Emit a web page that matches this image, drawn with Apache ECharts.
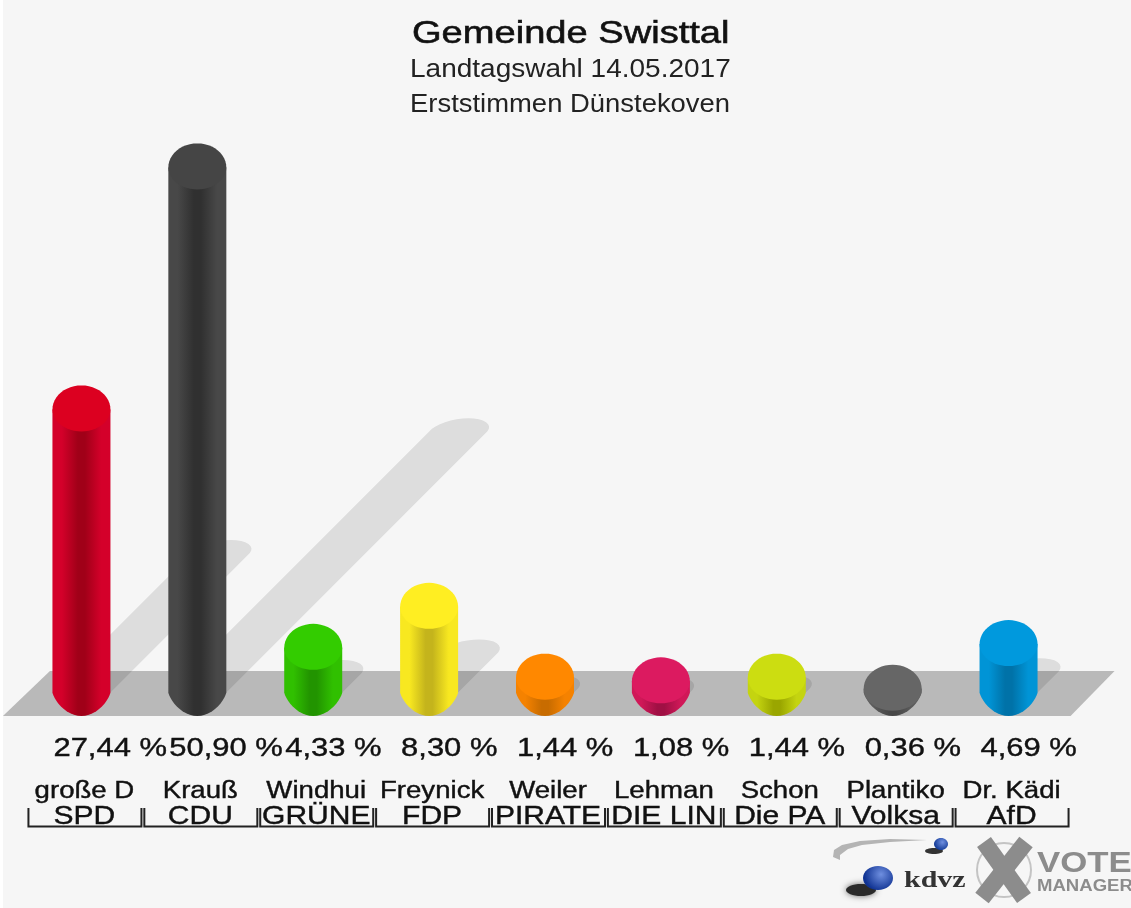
<!DOCTYPE html>
<html>
<head>
<meta charset="utf-8">
<title>Gemeinde Swisttal</title>
<script src="https://cdn.jsdelivr.net/npm/echarts@6/dist/echarts.min.js"></script>
<style>
  html, body { margin: 0; padding: 0; background: #fff; }
  #chart { width: 1131px; height: 908px; filter: blur(0.7px); }
</style>
</head>
<body>
<div id="chart"></div>
<script>
var parties = ['SPD', 'CDU', 'GRÜNE', 'FDP', 'PIRATE', 'DIE LIN', 'Die PA', 'Volksa', 'AfD']
var candidates = ['große D', 'Krauß', 'Windhui', 'Freynick', 'Weiler', 'Lehman', 'Schon', 'Plantiko', 'Dr. Kädi']
var shares = [27.44, 50.90, 4.33, 8.30, 1.44, 1.08, 1.44, 0.36, 4.69]
var topColors = ['#dc0020', '#454545', '#33cc00', '#ffee22', '#ff8800', '#dc1a60', '#ccdd11', '#666666', '#0099dd']
var edgeColors = ['#d4002a', '#484848', '#30c000', '#f8e820', '#f58200', '#d01858', '#c4d410', '#5c5c5c', '#0094d6']
var midColors = ['#a00018', '#303030', '#229400', '#c4b41c', '#c86c00', '#a01044', '#9aa600', '#484848', '#0072a8']

var FONT = '"Liberation Sans", Arial, sans-serif'
var RX = 29
var RY = 23.5

function topEllipse(cx, cy) {
  var pts = []
  for (var i = 0; i < 48; i++) {
    var t = i / 48 * Math.PI * 2
    var s = Math.sin(t)
    pts.push([cx + RX * Math.cos(t), cy + s * (s > 0 ? 22 : 24)])
  }
  return pts
}

function cylinderBody(cx, ty, by) {
  var pts = [[cx - RX, ty], [cx + RX, ty]]
  for (var i = 0; i <= 24; i++) {
    var t = i / 24 * Math.PI
    pts.push([cx + RX * Math.cos(t), by + RY * Math.pow(Math.sin(t), 1.5)])
  }
  return pts
}

function shadowStrip(cx, by, len) {
  // strip at 45 degrees from the base, with a sheared cap at its end
  var ex = cx + len
  var ey = by - len
  var pts = [[cx - RX, by], [cx + RX, by]]
  for (var i = 0; i <= 16; i++) {
    var t = i / 16 * Math.PI
    pts.push([ex + RX * Math.cos(t) + 10 * Math.sin(t), ey - 13 * Math.sin(t)])
  }
  return pts
}

function renderFloor(params, api) {
  var first = api.coord([0, 0])
  var last = api.coord([parties.length - 1, 0])
  return {
    type: 'polygon',
    shape: { points: [
      [first[0] - 78.5, first[1] + RY],
      [first[0] - 31.5, first[1] - 21.5],
      [last[0] + 106, first[1] - 21.5],
      [last[0] + 62, first[1] + RY]
    ] },
    style: { fill: '#b9b9b9' }
  }
}

function renderShadow(params, api) {
  var base = api.coord([api.value(0), 0])
  var head = api.coord([api.value(0), api.value(1)])
  return {
    type: 'polygon',
    shape: { points: shadowStrip(base[0], base[1], (base[1] - head[1]) * 0.503 - 3) },
    style: { fill: 'rgba(0,0,0,0.1)' }
  }
}

function renderCylinder(params, api) {
  var i = api.value(0)
  var base = api.coord([i, 0])
  var head = api.coord([i, api.value(1)])
  return {
    type: 'group',
    children: [{
      type: 'polygon',
      shape: { points: cylinderBody(base[0], head[1], base[1]) },
      style: {
        fill: new echarts.graphic.LinearGradient(0, 0, 1, 0, [
          { offset: 0, color: edgeColors[i] },
          { offset: 0.16, color: edgeColors[i] },
          { offset: 0.44, color: midColors[i] },
          { offset: 0.56, color: midColors[i] },
          { offset: 0.84, color: edgeColors[i] },
          { offset: 1, color: edgeColors[i] }
        ])
      }
    }, {
      type: 'polygon',
      shape: { points: topEllipse(base[0], head[1]) },
      style: { fill: topColors[i] }
    }]
  }
}

function label(text, x, y, size, sx, align) {
  return {
    type: 'text',
    x: x,
    y: y,
    scaleX: sx,
    style: {
      text: text,
      fontFamily: FONT,
      fontSize: size,
      fill: '#111',
      stroke: '#111',
      lineWidth: 0.4,
      align: align,
      verticalAlign: 'middle'
    }
  }
}

function renderLabels(params, api) {
  var i = api.value(0)
  var cx = api.coord([i, 0])[0]
  var bx = cx + 3
  var valueText = api.value(1).toFixed(2).replace('.', ',') + ' %'
  return {
    type: 'group',
    children: [
      label(valueText, cx - 28, 748.5, 26, 1.19, 'left'),
      label(candidates[i], bx, 792, 23, 1.2, 'center'),
      label(parties[i], bx, 817, 25, 1.2, 'center'),
      {
        type: 'polyline',
        shape: { points: [[bx - 56, 808], [bx - 56, 826.5], [bx + 57, 826.5], [bx + 57, 808]] },
        style: { stroke: '#222', lineWidth: 2, fill: 'none' }
      }
    ]
  }
}

var pointData = shares.map(function (v, i) { return [i, v] })

var chart = echarts.init(document.getElementById('chart'))
chart.setOption({
  animation: false,
  backgroundColor: '#fff',
  grid: { left: 23.5, width: 1043, top: 73.5, height: 619 },
  xAxis: { type: 'category', data: parties, show: false },
  yAxis: { type: 'value', min: 0, max: 60, show: false },
  graphic: [
    { type: 'rect', z: -10, shape: { x: 3, y: 0, width: 1128, height: 908 }, style: { fill: '#f6f6f6' } },
    { type: 'text', x: 412, y: 34, scaleX: 1.19, style: { text: 'Gemeinde Swisttal', fontFamily: FONT, fontSize: 32, fill: '#111', stroke: '#111', lineWidth: 0.6, align: 'left', verticalAlign: 'middle' } },
    { type: 'text', x: 410, y: 70, scaleX: 1.12, style: { text: 'Landtagswahl 14.05.2017', fontFamily: FONT, fontSize: 25, fill: '#222', align: 'left', verticalAlign: 'middle' } },
    { type: 'text', x: 410, y: 105, scaleX: 1.097, style: { text: 'Erststimmen Dünstekoven', fontFamily: FONT, fontSize: 25, fill: '#222', align: 'left', verticalAlign: 'middle' } },

    // kdvz logo
    { type: 'polygon', shape: { points: [[833, 857], [834, 850], [842, 845], [860, 841], [890, 839], [927, 840], [890, 842], [862, 845], [848, 849], [840, 855], [840, 860]] }, style: { fill: '#b4b4b4' } },
    { type: 'ellipse', shape: { cx: 934, cy: 851, rx: 9, ry: 3 }, style: { fill: '#333' } },
    { type: 'ellipse', shape: { cx: 941, cy: 844, rx: 7, ry: 6 }, style: { fill: new echarts.graphic.RadialGradient(0.6, 0.35, 0.7, [{ offset: 0, color: '#6f8fe0' }, { offset: 1, color: '#123a96' }]) } },
    { type: 'ellipse', shape: { cx: 861, cy: 890, rx: 15, ry: 6 }, style: { fill: '#2a2a2a', shadowBlur: 6, shadowColor: '#666' } },
    { type: 'ellipse', shape: { cx: 878, cy: 878, rx: 15, ry: 12 }, style: { fill: new echarts.graphic.RadialGradient(0.6, 0.35, 0.7, [{ offset: 0, color: '#6f8fe0' }, { offset: 1, color: '#0f3292' }]) } },
    { type: 'text', x: 904, y: 881, scaleX: 1.25, style: { text: 'kdvz', fontFamily: '"Liberation Serif", serif', fontWeight: 'bold', fontSize: 24, fill: '#333', align: 'left', verticalAlign: 'middle' } },

    // vote manager logo
    { type: 'circle', shape: { cx: 1004, cy: 870, r: 27 }, style: { fill: 'none', stroke: '#c4c4c4', lineWidth: 2 } },
    { type: 'line', shape: { x1: 984, y1: 842, x2: 1024, y2: 898 }, style: { stroke: '#8c8c8c', lineWidth: 17 } },
    { type: 'line', shape: { x1: 1026, y1: 842, x2: 982, y2: 898 }, style: { stroke: '#8c8c8c', lineWidth: 17 } },
    { type: 'text', x: 1037, y: 864, scaleX: 1.2, style: { text: 'VOTE', fontFamily: FONT, fontWeight: 'bold', fontSize: 29, fill: '#8c8c8c', align: 'left', verticalAlign: 'middle' } },
    { type: 'text', x: 1037, y: 887, scaleX: 1.16, style: { text: 'MANAGER', fontFamily: FONT, fontWeight: 'bold', fontSize: 16, fill: '#8c8c8c', align: 'left', verticalAlign: 'middle' } }
  ],
  series: [
    { type: 'custom', name: 'floor', data: [[0, 0]], renderItem: renderFloor, silent: true, clip: false },
    { type: 'custom', name: 'shadow', data: pointData, renderItem: renderShadow, silent: true, clip: false },
    { type: 'custom', name: 'share', data: pointData, renderItem: renderCylinder, clip: false },
    { type: 'custom', name: 'labels', data: pointData, renderItem: renderLabels, silent: true, clip: false }
  ]
})
</script>
</body>
</html>
